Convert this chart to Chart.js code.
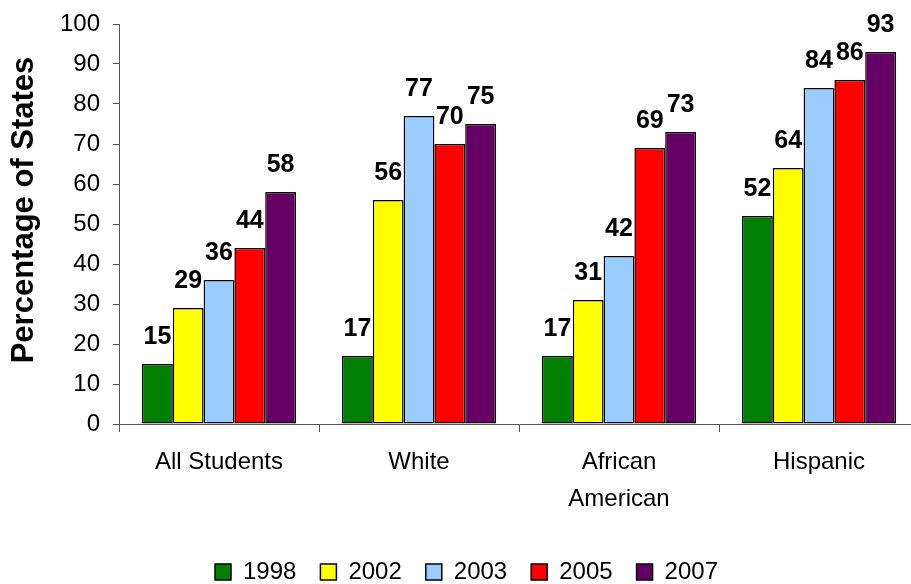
<!DOCTYPE html>
<html>
<head>
<meta charset="utf-8">
<script src="https://cdn.jsdelivr.net/npm/chart.js@4/dist/chart.umd.min.js"></script>
<style>
  html, body { margin: 0; padding: 0; background: #fff; overflow: hidden; }
  /* the original picture is cropped on the right/bottom, so the canvas is a bit larger than the window */
  #wrap { position: relative; width: 922px; height: 594px; }
</style>
</head>
<body>
<div id="wrap"><canvas id="barChart"></canvas></div>
<script>
// categories and values (percentage of states)
const categories = ['All Students', 'White', ['African', 'American'], 'Hispanic'];
const years = ['1998', '2002', '2003', '2005', '2007'];
const values1998 = [15, 17, 17, 52];
const values2002 = [29, 56, 31, 64];
const values2003 = [36, 77, 42, 84];
const values2005 = [44, 70, 69, 86];
const values2007 = [58, 75, 73, 93];
const yTicks = [0, 10, 20, 30, 40, 50, 60, 70, 80, 90, 100];
const yTitle = 'Percentage of States';

const seriesValues = [values1998, values2002, values2003, values2005, values2007];
const seriesColors = ['#008000', '#FFFF00', '#99CCFF', '#FF0000', '#660066'];

const FONT = "'Liberation Sans', Arial, sans-serif";
const AXIS_COLOR = '#555555';

Chart.defaults.font.family = FONT;
Chart.defaults.color = '#000';

// value labels above each bar
const valueLabels = {
  id: 'valueLabels',
  afterDatasetsDraw(chart) {
    const ctx = chart.ctx;
    ctx.save();
    ctx.font = 'bold 25px ' + FONT;
    ctx.fillStyle = '#000';
    ctx.textAlign = 'center';
    ctx.textBaseline = 'alphabetic';
    chart.data.datasets.forEach((ds, i) => {
      chart.getDatasetMeta(i).data.forEach((bar, j) => {
        ctx.fillText(String(ds.data[j]), bar.x, bar.y - 20);
      });
    });
    ctx.restore();
  }
};

// y axis title, sits a little above the middle of the plot like the original
const yAxisTitle = {
  id: 'yAxisTitle',
  afterDraw(chart) {
    const { ctx, chartArea } = chart;
    ctx.save();
    ctx.translate(33, (chartArea.top + chartArea.bottom) / 2 - 14);
    ctx.rotate(-Math.PI / 2);
    ctx.font = 'bold 31px ' + FONT;
    ctx.fillStyle = '#000';
    ctx.textAlign = 'center';
    ctx.textBaseline = 'alphabetic';
    ctx.fillText(yTitle, 0, 0);
    ctx.restore();
  }
};

const datasets = years.map((year, i) => ({
  label: year,
  data: seriesValues[i],
  backgroundColor: seriesColors[i],
  borderColor: '#000',
  borderWidth: 1.5,
  borderSkipped: false,
  categoryPercentage: 0.77,
  barPercentage: 1
}));

new Chart(document.getElementById('barChart'), {
  type: 'bar',
  data: { labels: categories, datasets },
  options: {
    responsive: true,
    maintainAspectRatio: false,
    animation: false,
    layout: { padding: { top: 24, right: 3, left: 14, bottom: 0 } },
    plugins: {
      tooltip: { enabled: false },
      legend: {
        position: 'bottom',
        labels: {
          boxWidth: 16,
          boxHeight: 16,
          padding: 24,
          color: '#000',
          font: { size: 24 }
        }
      }
    },
    scales: {
      x: {
        grid: {
          offset: true,
          drawOnChartArea: false,
          drawTicks: true,
          tickLength: 8,
          color: AXIS_COLOR
        },
        border: { color: AXIS_COLOR, width: 1 },
        ticks: {
          color: '#000',
          padding: 12,
          maxRotation: 0,
          font: { size: 24, lineHeight: 1.55 }
        },
        afterFit(scale) { scale.height = 112; }
      },
      y: {
        min: 0,
        max: 100,
        afterBuildTicks(scale) { scale.ticks = yTicks.map(v => ({ value: v })); },
        grid: {
          drawOnChartArea: false,
          drawTicks: true,
          tickLength: 6,
          color: AXIS_COLOR
        },
        border: { color: AXIS_COLOR, width: 1 },
        ticks: {
          color: '#000',
          padding: 13,
          font: { size: 24, lineHeight: 1 }
        },
        afterFit(scale) {
          scale.width = 105;
          scale.paddingTop = 0;
        }
      }
    }
  },
  plugins: [valueLabels, yAxisTitle]
});
</script>
</body>
</html>
